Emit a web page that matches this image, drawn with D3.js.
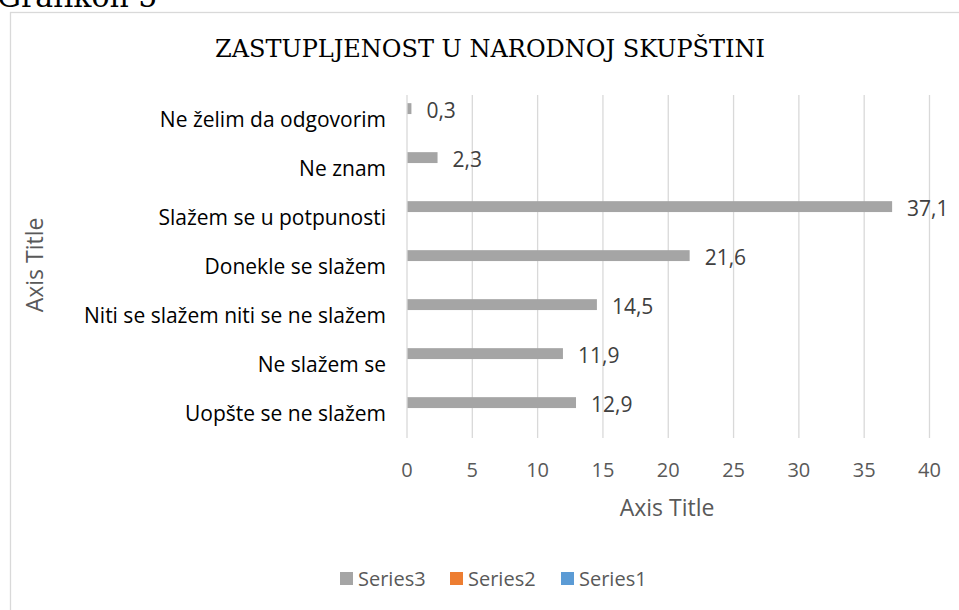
<!DOCTYPE html>
<html><head><meta charset="utf-8">
<script src="https://cdn.jsdelivr.net/npm/d3@7"></script>
<style>body{margin:0;background:#fff;} svg{display:block;}</style>
</head><body>
<svg id="c" width="959" height="610"></svg>
<script>
const categories = ["Ne želim da odgovorim","Ne znam","Slažem se u potpunosti","Donekle se slažem","Niti se slažem niti se ne slažem","Ne slažem se","Uopšte se ne slažem"];
const series3 = [0.3, 2.3, 37.1, 21.6, 14.5, 11.9, 12.9];
const series2 = [0, 0, 0, 0, 0, 0, 0];
const series1 = [0, 0, 0, 0, 0, 0, 0];
const seriesNames = ["Series3","Series2","Series1"];
const seriesColors = ["#a5a5a5","#ed7d31","#5b9bd5"];
const xTicks = [0,5,10,15,20,25,30,35,40];
const chartTitle = "ZASTUPLJENOST U NARODNOJ SKUPŠTINI";

const svg = d3.select("#c");
const F = "'Open Sans', Lato, sans-serif";

svg.append("text").attr("x", -3).attr("y", 7).attr("font-family","'DejaVu Serif', serif")
  .attr("font-size", 30).attr("fill","#000").text("Grafikon 5");

svg.append("rect").attr("x",10.5).attr("y",12.5).attr("width",960).attr("height",610)
  .attr("fill","#fff").attr("stroke","#d9d9d9").attr("stroke-width",1.3);

svg.append("text").attr("x", 490).attr("y", 57).attr("text-anchor","middle")
  .attr("font-family","'DejaVu Serif', serif").attr("font-size", 24).attr("fill","#000").text(chartTitle);

const x = d3.scaleLinear().domain([0,40]).range([406.5, 929]);
const y = d3.scaleBand().domain(categories).range([95, 438]);
const inner = d3.scaleBand().domain(seriesNames).range([0, y.bandwidth()]).paddingInner(0).paddingOuter(0.75);

// gridlines
svg.append("g").selectAll("line").data(xTicks).join("line")
  .attr("x1", d=>x(d)+0.5).attr("x2", d=>x(d)+0.5).attr("y1", 95).attr("y2", 438)
  .attr("stroke","#d9d9d9").attr("stroke-width",1.3);

// x axis tick labels
const xa = svg.append("g").attr("transform","translate(0,438)")
  .call(d3.axisBottom(x).tickValues(xTicks).tickSize(0).tickPadding(25));
xa.select(".domain").remove();
xa.selectAll("text").attr("font-family",F).attr("font-size",20).attr("fill","#595959");

// y axis labels
const ya = svg.append("g").attr("transform","translate(386,0)")
  .call(d3.axisLeft(y).tickSize(0).tickPadding(0));
ya.select(".domain").remove();
ya.selectAll("text").attr("font-family",F).attr("font-size",21).attr("fill","#000").attr("dy","0.35em");

const data = [
  {name:"Series3", vals: series3},
  {name:"Series2", vals: series2},
  {name:"Series1", vals: series1}
];
const colorOf = d3.scaleOrdinal().domain(seriesNames).range(seriesColors);

data.forEach(s => {
  svg.append("g").selectAll("rect").data(s.vals.map((v,i)=>({v, c:categories[i]}))).join("rect")
    .attr("x", x(0)+1).attr("y", d=>y(d.c)+inner(s.name))
    .attr("width", d=>Math.max(0, x(d.v)-x(0))).attr("height", inner.bandwidth())
    .attr("fill", colorOf(s.name));
});

// data labels for series3
svg.append("g").selectAll("text").data(series3.map((v,i)=>({v,c:categories[i]}))).join("text")
  .attr("x", d=>x(d.v)+16).attr("y", d=>y(d.c)+inner("Series3")+inner.bandwidth()/2+2)
  .attr("dy","0.35em").attr("font-family",F).attr("font-size",21).attr("fill","#404040")
  .text(d=>String(d.v).replace(".",","));

// axis titles
svg.append("text").attr("x", 667).attr("y", 516).attr("text-anchor","middle")
  .attr("font-family",F).attr("font-size",23).attr("fill","#595959").text("Axis Title");
svg.append("text").attr("transform","translate(43,265) rotate(-90)").attr("text-anchor","middle")
  .attr("font-family",F).attr("font-size",23).attr("fill","#595959").text("Axis Title");

// legend
const leg = svg.append("g");
const legX = [340, 450, 561];
seriesNames.forEach((n,i)=>{
  leg.append("rect").attr("x",legX[i]).attr("y",572).attr("width",13).attr("height",13).attr("fill",seriesColors[i]);
  leg.append("text").attr("x",legX[i]+18).attr("y",579).attr("dy","0.35em")
    .attr("font-family",F).attr("font-size",20).attr("fill","#595959").text(n);
});
</script>
</body></html>
